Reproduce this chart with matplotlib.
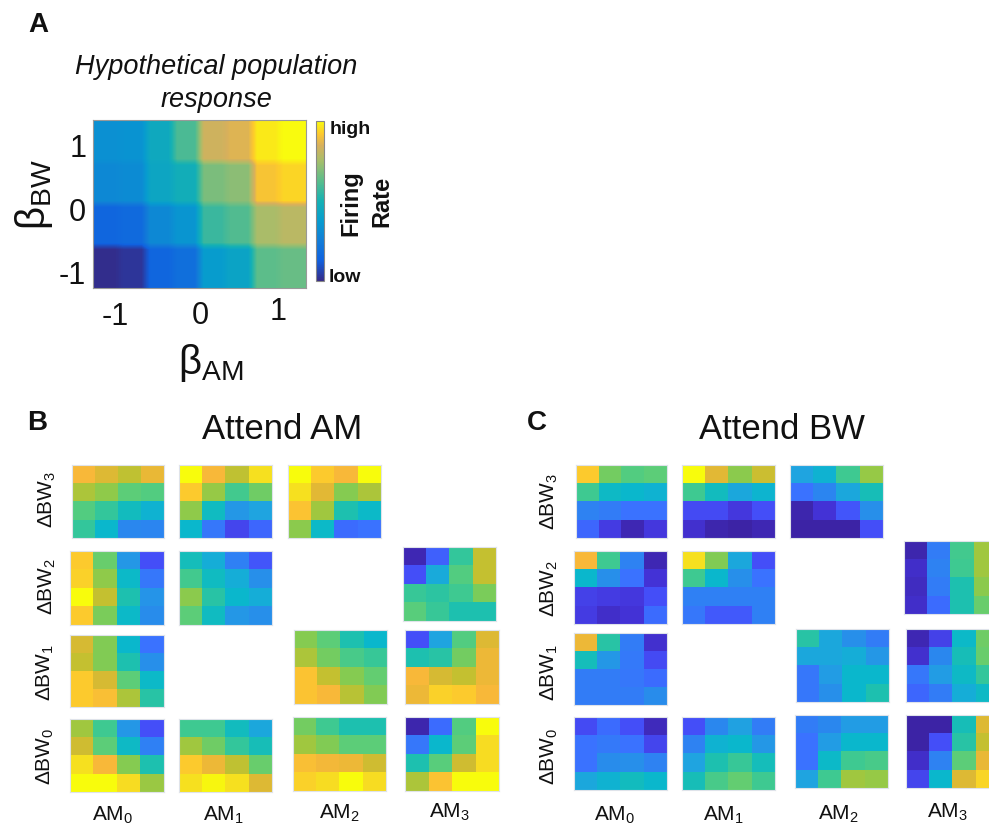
import numpy as np
import matplotlib
matplotlib.use("Agg")
import matplotlib.pyplot as plt
from matplotlib.colors import LinearSegmentedColormap

plt.rcParams["font.family"] = ["Liberation Sans", "DejaVu Sans"]
plt.rcParams["mathtext.default"] = "regular"

W, H = 989, 828

# panel A, rows top to bottom (beta_BW 1 to -1), columns beta_AM -1 to 1
population = [[33, 34, 45, 60, 83, 86, 97, 100],
              [30, 31, 43, 48, 68, 71, 91, 94],
              [15, 17, 30, 35, 57, 61, 76, 79],
              [1, 3, 15, 19, 38, 42, 63, 65]]
beta_ticks = ["-1", "0", "1"]

# panel B, attend AM. name is b_<AM index><BW index>
b_03 = [[89, 84, 79, 86], [76, 71, 62, 60], [60, 54, 46, 40], [54, 42, 28, 27]]
b_13 = [[100, 89, 79, 96], [92, 72, 57, 65], [71, 45, 32, 35], [42, 22, 12, 18]]
b_23 = [[100, 92, 89, 100], [96, 85, 69, 76], [91, 74, 50, 43], [70, 43, 19, 20]]
b_02 = [[92, 64, 32, 14], [93, 71, 43, 22], [100, 80, 50, 31], [92, 67, 43, 29]]
b_12 = [[47, 38, 25, 15], [57, 45, 38, 30], [70, 52, 42, 38], [62, 45, 32, 30]]
b_32 = [[3, 17, 54, 80], [14, 37, 60, 80], [55, 53, 56, 67], [61, 55, 50, 50]]
b_01 = [[83, 68, 42, 20], [80, 68, 50, 30], [92, 83, 62, 43], [92, 90, 76, 52]]
b_21 = [[69, 62, 50, 42], [76, 66, 58, 55], [91, 80, 69, 63], [91, 89, 78, 68]]
b_31 = [[14, 35, 60, 84], [50, 52, 66, 87], [89, 83, 80, 87], [87, 93, 92, 89]]
b_00 = [[74, 56, 32, 14], [82, 62, 44, 25], [96, 89, 69, 50], [100, 100, 95, 73]]
b_10 = [[56, 56, 46, 36], [74, 65, 54, 48], [92, 87, 79, 64], [96, 99, 96, 84]]
b_20 = [[66, 56, 50, 50], [74, 68, 62, 62], [90, 88, 87, 82], [93, 95, 100, 95]]
b_30 = [[2, 19, 60, 100], [22, 42, 62, 95], [50, 61, 82, 95], [76, 91, 100, 100]]

# panel C, attend BW
c_03 = [[92, 66, 60, 62], [56, 44, 42, 40], [26, 24, 20, 20], [18, 10, 3, 9]]
c_13 = [[100, 85, 70, 81], [56, 46, 36, 41], [13, 13, 9, 14], [7, 2, 1, 3]]
c_23 = [[35, 40, 56, 72], [20, 27, 36, 48], [2, 8, 15, 30], [1, 1, 1, 14]]
c_02 = [[89, 56, 26, 3], [42, 30, 20, 8], [11, 10, 9, 14], [10, 6, 8, 19]]
c_12 = [[96, 68, 36, 14], [56, 42, 30, 20], [25, 25, 25, 25], [22, 16, 16, 25]]
c_32 = [[2, 24, 57, 74], [6, 26, 56, 74], [5, 24, 50, 70], [6, 19, 50, 64]]
c_01 = [[87, 52, 24, 7], [47, 32, 23, 13], [24, 24, 22, 19], [24, 24, 24, 29]]
c_21 = [[52, 36, 30, 24], [36, 36, 38, 32], [22, 33, 42, 42], [22, 30, 42, 50]]
c_31 = [[3, 11, 43, 65], [7, 28, 48, 64], [22, 33, 44, 54], [18, 24, 38, 44]]
c_00 = [[13, 19, 14, 4], [20, 23, 20, 12], [20, 29, 30, 26], [36, 40, 46, 42]]
c_10 = [[14, 28, 34, 24], [26, 40, 42, 32], [35, 50, 55, 47], [48, 58, 63, 56]]
c_20 = [[24, 28, 33, 33], [20, 33, 42, 42], [20, 43, 56, 58], [35, 56, 74, 72]]
c_30 = [[1, 1, 48, 84], [1, 14, 52, 80], [6, 26, 62, 86], [12, 42, 84, 94]]

bw_labels = ["ΔBW$_3$", "ΔBW$_2$", "ΔBW$_1$", "ΔBW$_0$"]
am_labels = ["AM$_0$", "AM$_1$", "AM$_2$", "AM$_3$"]

# the small cells look washed out next to panel A, so each gets its own map
cmap = LinearSegmentedColormap.from_list("cells", [
    (0.00, "#3c22a0"), (0.08, "#4433d8"), (0.14, "#4450fa"), (0.20, "#3a72ff"),
    (0.28, "#2a88ee"), (0.35, "#1fa5e0"), (0.42, "#0ab8cc"), (0.50, "#1cc0b0"),
    (0.56, "#3ec992"), (0.62, "#5dce78"), (0.68, "#80cc55"), (0.74, "#a0c840"),
    (0.80, "#c4c030"), (0.85, "#e2b835"), (0.89, "#f8b83a"), (0.92, "#fdca2e"),
    (0.96, "#f6e020"), (1.00, "#f8fc0c")])
cmap_a = LinearSegmentedColormap.from_list("parula_a", [
    (0.00, "#352a87"), (0.13, "#1062e0"), (0.25, "#127dd8"), (0.375, "#079ccf"),
    (0.50, "#15b1b4"), (0.625, "#59bd8c"), (0.75, "#a5be6b"), (0.85, "#d8b05c"),
    (0.92, "#fdc82e"), (1.00, "#f9fb0e")])

fig = plt.figure(figsize=(W / 100, H / 100), dpi=100)


def px_axes(x0, x1, y0, y1):
    return fig.add_axes([x0 / W, 1 - y1 / H, (x1 - x0) / W, (y1 - y0) / H])


def label(x, y, s, size, rotation=0, **kw):
    # va center sits about 2px off the reference glyphs
    if rotation:
        x = x + 2
    else:
        y = y + 2
    fig.text(x / W, 1 - y / H, s, fontsize=size, ha="center", va="center", color="#111111",
             rotation=rotation, **kw)


def cell(vals, x0, x1, y0, y1):
    ax = px_axes(x0, x1, y0, y1)
    ax.imshow(vals, cmap=cmap, vmin=0, vmax=100, aspect="auto", interpolation="nearest")
    ax.set_xticks([])
    ax.set_yticks([])
    for s in ax.spines.values():
        s.set_color("#dfe3ea")
        s.set_linewidth(0.8)


# panel A
ax = px_axes(93, 306, 121, 289)
im = ax.imshow(np.repeat(np.repeat(population, 6, axis=0), 3, axis=1), cmap=cmap_a, vmin=0, vmax=100,
               aspect="auto", interpolation="bilinear")
ax.set_xticks([])
ax.set_yticks([])
for s in ax.spines.values():
    s.set_color("#999999")
    s.set_linewidth(0.8)

cax = px_axes(316, 324, 122, 282)
cb = fig.colorbar(im, cax=cax)
cb.set_ticks([])
cb.outline.set_edgecolor("#888888")
cb.outline.set_linewidth(0.8)

label(38, 23, "A", 20, fontweight="bold")
label(216, 65, "Hypothetical population", 19.5, fontstyle="italic")
label(216, 98, "response", 19.5, fontstyle="italic")
label(350, 128, "high", 14, fontweight="bold")
label(345, 276, "low", 14, fontweight="bold")
label(349, 203, "Firing", 17, fontweight="bold", rotation=90)
label(380, 201, "Rate", 17, fontweight="bold", rotation=90)
label(211, 361, "β$_{AM}$", 29)
label(32, 195, "β$_{BW}$", 29, rotation=90)
for x, y, s in zip([115, 200, 278], [315, 314, 310], beta_ticks):
    label(x, y, s, 22)
for x, y, s in zip([72, 77, 78], [274, 211, 147], beta_ticks):
    label(x, y, s, 22)

# panel B
label(37, 421, "B", 20, fontweight="bold")
label(282, 428, "Attend AM", 25)
cell(b_03, 72, 164, 466, 539)
cell(b_13, 179, 272, 466, 539)
cell(b_23, 288, 381, 466, 539)
cell(b_02, 70, 164, 552, 626)
cell(b_12, 179, 272, 552, 626)
cell(b_32, 403, 496, 548, 622)
cell(b_01, 70, 164, 636, 708)
cell(b_21, 294, 387, 631, 705)
cell(b_31, 405, 499, 631, 705)
cell(b_00, 70, 164, 720, 793)
cell(b_10, 179, 272, 720, 793)
cell(b_20, 293, 386, 718, 792)
cell(b_30, 405, 499, 718, 792)
for x, y, s in zip([45, 45, 43, 43], [499, 586, 672, 756], bw_labels):
    label(x, y, s, 15, rotation=90)
for x, y, s in zip([113, 223, 339, 449], [813, 813, 811, 810], am_labels):
    label(x, y, s, 15)

# panel C, last column runs off the right edge like the reference
label(537, 421, "C", 20, fontweight="bold")
label(782, 428, "Attend BW", 25)
cell(c_03, 576, 667, 466, 539)
cell(c_13, 682, 775, 466, 539)
cell(c_23, 790, 883, 466, 539)
cell(c_02, 574, 667, 552, 625)
cell(c_12, 682, 775, 552, 625)
cell(c_32, 904, 997, 542, 615)
cell(c_01, 574, 667, 634, 706)
cell(c_21, 796, 889, 630, 703)
cell(c_31, 906, 999, 630, 703)
cell(c_00, 574, 667, 718, 791)
cell(c_10, 682, 775, 718, 791)
cell(c_20, 795, 888, 716, 789)
cell(c_30, 906, 999, 716, 789)
for x, y, s in zip([547, 547, 547, 547], [501, 588, 672, 756], bw_labels):
    label(x, y, s, 15, rotation=90)
for x, y, s in zip([615, 723, 838, 947], [813, 813, 812, 810], am_labels):
    label(x, y, s, 15)

fig.savefig("out.png", dpi=100)
